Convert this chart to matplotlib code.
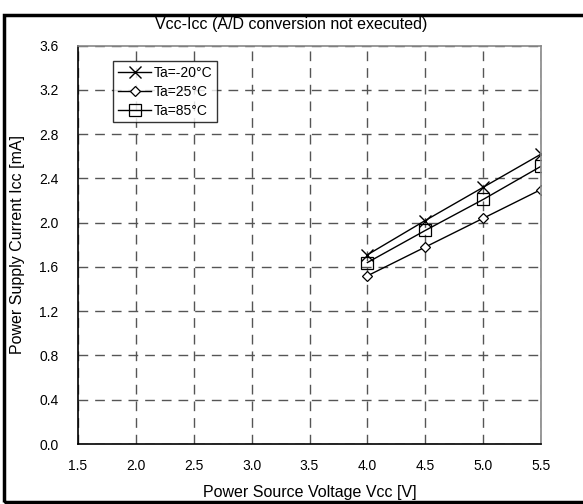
import matplotlib
matplotlib.use("Agg")
import matplotlib.pyplot as plt
from matplotlib.patches import Rectangle

plt.rcParams['font.family'] = ['Liberation Sans', 'DejaVu Sans']

vcc = [4.0, 4.5, 5.0, 5.5]
icc_m20 = [1.71, 2.02, 2.32, 2.62]
icc_25 = [1.52, 1.78, 2.04, 2.30]
icc_85 = [1.64, 1.93, 2.21, 2.51]
labels = ['Ta=-20°C', 'Ta=25°C', 'Ta=85°C']
xticks = [1.5, 2.0, 2.5, 3.0, 3.5, 4.0, 4.5, 5.0, 5.5]
yticks = [0.0, 0.4, 0.8, 1.2, 1.6, 2.0, 2.4, 2.8, 3.2, 3.6]

W, H = 583, 504
L, R, T, B = 78, 541, 45.7, 444
fig = plt.figure(figsize=(W/100, H/100), dpi=100)
ax = fig.add_axes([L/W, 1-B/H, (R-L)/W, (B-T)/H])

ax.plot(vcc, icc_m20, color='black', lw=1, marker='x', ms=8, mew=1, label=labels[0])
ax.plot(vcc, icc_25, color='black', lw=1, marker='D', ms=5.5, mfc='white', mew=0.9, label=labels[1])
ax.plot(vcc, icc_85, color='black', lw=1, marker='s', ms=8, mfc='none', mew=0.9, label=labels[2])

ax.set_xlim(1.5, 5.5)
ax.set_ylim(0, 3.6)
ax.set_xticks(xticks)
ax.set_yticks(yticks)
ax.set_xticklabels([f"{v:.1f}" for v in xticks])
ax.set_yticklabels([f"{v:.1f}" for v in yticks])
ax.tick_params(length=0, labelsize=10)
ax.tick_params(axis='x', pad=11)
ax.tick_params(axis='y', pad=14)
ax.grid(True, color='#555555', lw=1, linestyle=(0, (7, 5)))
ax.set_axisbelow(True)
for s in ['left', 'bottom']:
    ax.spines[s].set_color('black')
    ax.spines[s].set_linewidth(1.2)
for s in ['top', 'right']:
    ax.spines[s].set_color('#888888')
    ax.spines[s].set_linewidth(1.2)

ax.set_xlabel('Power Source Voltage Vcc [V]', fontsize=11.5, va='center')
ax.set_ylabel('Power Supply Current Icc [mA]', fontsize=11.5, va='center')
ax.xaxis.set_label_coords(0.5, (B-492)/(B-T))
ax.yaxis.set_label_coords((18-L)/(R-L), 0.5)
fig.text(0.5, 1-25/H, 'Vcc-Icc (A/D conversion not executed)', ha='center', va='center', fontsize=11.5)

leg = ax.legend(loc='upper left', bbox_to_anchor=((113-L)/(R-L), 1-(61-T)/(B-T)),
                fontsize=10, frameon=True, fancybox=False, edgecolor='black',
                handlelength=2.4, handletextpad=0.2, borderpad=0.35, labelspacing=0.35,
                borderaxespad=0)
leg.get_frame().set_linewidth(1)

fig.add_artist(Rectangle((4/W, 1-502/H), (W+5-4)/W, (502-15)/H, transform=fig.transFigure,
                         fill=False, edgecolor='black', lw=2.5))

fig.savefig('out.png', dpi=100)
